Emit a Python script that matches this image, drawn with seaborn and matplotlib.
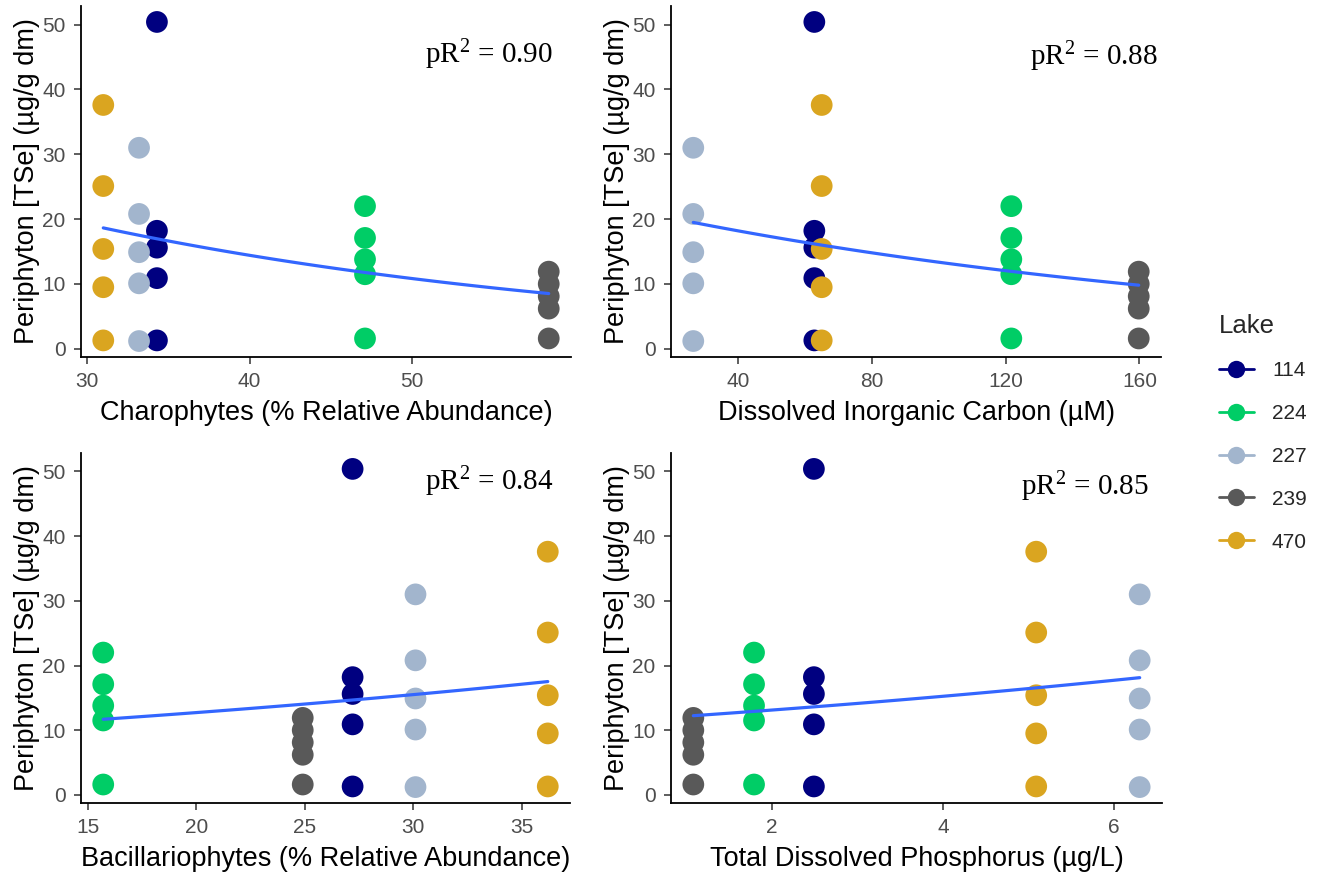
import numpy as np
import pandas as pd
import matplotlib
matplotlib.use("Agg")
import matplotlib.pyplot as plt
import seaborn as sns
from matplotlib.lines import Line2D
from matplotlib.ticker import MultipleLocator

# ---------------- data ----------------
lakes = ["114", "224", "227", "239", "470"]
lake_colors = ["#000080", "#00CD66", "#A2B5CD", "#595959", "#DAA520"]

tse_114 = [50.4, 18.2, 15.6, 10.9, 1.3]
tse_224 = [22.0, 17.1, 13.8, 11.5, 1.6]
tse_227 = [31.0, 20.8, 14.9, 10.1, 1.2]
tse_239 = [11.9, 10.0, 8.1, 6.2, 1.6]
tse_470 = [37.6, 25.1, 15.4, 9.5, 1.3]

charophytes = [34.3, 47.1, 33.2, 58.4, 31.0]
dic = [62.8, 121.7, 26.6, 159.8, 65.0]
bacillariophytes = [27.2, 15.7, 30.1, 24.9, 36.2]
tdp = [2.49, 1.79, 6.30, 1.08, 5.09]

pr2_values = ["0.90", "0.88", "0.84", "0.85"]
x_titles = ["Charophytes (% Relative Abundance)",
            "Dissolved Inorganic Carbon (\u00b5M)",
            "Bacillariophytes (% Relative Abundance)",
            "Total Dissolved Phosphorus (\u00b5g/L)"]
y_title = "Periphyton [TSe] (\u00b5g/g dm)"
x_tick_steps = [10, 40, 5, 2]

# ---------------- frame ----------------
tse_all = [tse_114, tse_224, tse_227, tse_239, tse_470]
rows = []
for i, lk in enumerate(lakes):
    for v in tse_all[i]:
        rows.append(dict(Lake=lk, TSe=v, Charophytes=charophytes[i], DIC=dic[i],
                         Bacillariophytes=bacillariophytes[i], TDP=tdp[i]))
df = pd.DataFrame(rows)
predictors = ["Charophytes", "DIC", "Bacillariophytes", "TDP"]


def poisson_glm(x, y, n_iter=50):
    X = np.column_stack([np.ones_like(x), x])
    beta = np.array([np.log(y.mean()), 0.0])
    for _ in range(n_iter):
        eta = X @ beta
        mu = np.exp(eta)
        z = eta + (y - mu) / mu
        beta = np.linalg.solve(X.T @ (mu[:, None] * X), X.T @ (mu * z))
    return beta


sns.set_theme(style="ticks")
plt.rcParams["font.family"] = ["Liberation Sans", "DejaVu Sans"]
plt.rcParams["mathtext.fontset"] = "custom"
plt.rcParams["mathtext.rm"] = "Liberation Serif"
plt.rcParams["mathtext.it"] = "Liberation Serif:italic"

W, H = 1327, 874
fig = plt.figure(figsize=(W / 100, H / 100), dpi=100)

# axes rectangles in pixels: left, top, right, bottom
rects = [(81, 6, 571, 357), (671, 6, 1161, 357),
         (81, 453, 570, 803), (671, 453, 1162, 803)]
text_pos = [(0.964, 0.860), (0.993, 0.855), (0.967, 0.918), (0.973, 0.904)]

palette = dict(zip(lakes, lake_colors))

for k, pred in enumerate(predictors):
    l, t, r, b = rects[k]
    ax = fig.add_axes([l / W, 1 - b / H, (r - l) / W, (b - t) / H])
    sns.scatterplot(data=df, x=pred, y="TSe", hue="Lake", palette=palette,
                    s=245, edgecolor="none", linewidth=0, alpha=1,
                    legend=False, ax=ax, zorder=2)
    x = df[pred].to_numpy(float)
    y = df["TSe"].to_numpy(float)
    beta = poisson_glm(x, y)
    xs = np.linspace(x.min(), x.max(), 100)
    fit = pd.DataFrame({"x": xs, "y": np.exp(beta[0] + beta[1] * xs)})
    sns.lineplot(data=fit, x="x", y="y", color="#3366FF", linewidth=2.3,
                 ax=ax, zorder=3)
    ax.set_xlabel(x_titles[k], fontsize=19.5, color="black", labelpad=6)
    ax.set_ylabel(y_title, fontsize=19.5, color="black", labelpad=2)
    ax.xaxis.set_major_locator(MultipleLocator(x_tick_steps[k]))
    ax.yaxis.set_major_locator(MultipleLocator(10))
    ax.margins(0.05)
    ax.tick_params(axis="both", labelsize=15, labelcolor="#4D4D4D",
                   color="#333333", length=5, width=1.1, pad=6)
    for s in ["top", "right"]:
        ax.spines[s].set_visible(False)
    for s in ["left", "bottom"]:
        ax.spines[s].set_linewidth(1.3)
        ax.spines[s].set_color("black")
    ax.text(text_pos[k][0], text_pos[k][1], "pR$^{2}$ = " + pr2_values[k],
            transform=ax.transAxes, ha="right", va="center", fontsize=21,
            family=["Liberation Serif", "DejaVu Serif"], color="black")

handles = [Line2D([0], [0], color=c, marker="o", markersize=12.5, lw=2,
                  markeredgewidth=0) for c in lake_colors]
leg = fig.legend(handles, lakes, title="Lake", loc="upper left",
                 bbox_to_anchor=(1200 / W, 1 - 295 / H), frameon=False,
                 fontsize=15, title_fontsize=18.5, handlelength=1.7,
                 labelspacing=1.14, handletextpad=0.85, alignment="left")

fig.savefig("out.png", dpi=100, facecolor="white")
